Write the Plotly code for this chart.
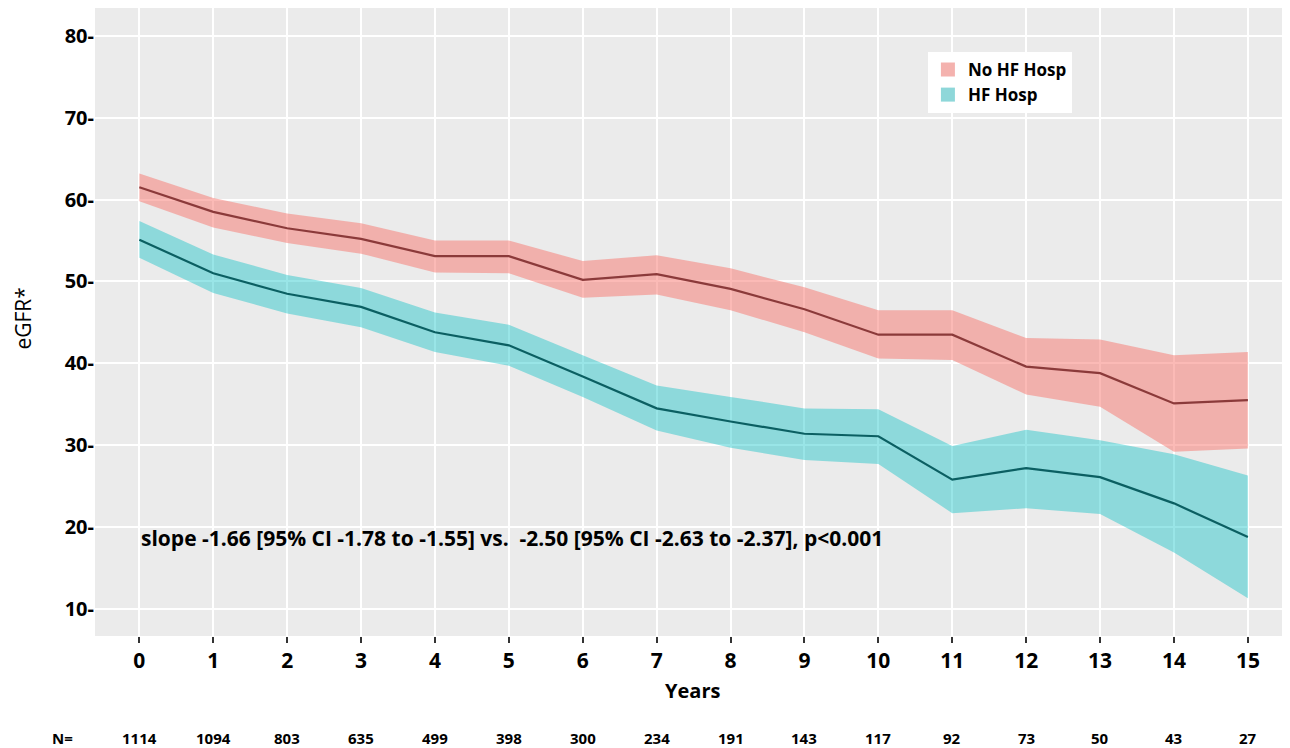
import plotly.graph_objects as go

years = list(range(16))
n_at_risk = [1114, 1094, 803, 635, 499, 398, 300, 234, 191, 143, 117, 92, 73, 50, 43, 27]

no_hf_mean = [61.5, 58.5, 56.5, 55.2, 53.1, 53.1, 50.2, 50.9, 49.1, 46.6, 43.5, 43.5, 39.6, 38.8, 35.1, 35.5]
no_hf_upper = [63.2, 60.2, 58.3, 57.1, 55.0, 55.0, 52.5, 53.2, 51.6, 49.3, 46.5, 46.5, 43.1, 42.9, 41.0, 41.4]
no_hf_lower = [59.8, 56.6, 54.7, 53.4, 51.1, 51.0, 48.0, 48.4, 46.5, 43.8, 40.6, 40.4, 36.2, 34.7, 29.2, 29.6]

hf_mean = [55.1, 51.0, 48.5, 46.9, 43.8, 42.2, 38.4, 34.5, 32.9, 31.4, 31.1, 25.8, 27.2, 26.1, 22.9, 18.8]
hf_upper = [57.4, 53.3, 50.8, 49.2, 46.2, 44.7, 41.0, 37.3, 35.9, 34.5, 34.4, 29.9, 31.9, 30.6, 28.9, 26.3]
hf_lower = [52.9, 48.6, 46.1, 44.4, 41.4, 39.7, 35.9, 31.8, 29.7, 28.2, 27.7, 21.7, 22.3, 21.6, 16.9, 11.3]

y_ticks = [10, 20, 30, 40, 50, 60, 70, 80]
slope_text = "slope -1.66 [95% CI -1.78 to -1.55] vs.  -2.50 [95% CI -2.63 to -2.37], p<0.001"

FONT = "Open Sans"
RED_FILL = "rgba(248,118,109,0.5)"
TEAL_FILL = "rgba(0,191,196,0.4)"

fig = go.Figure()

fig.add_trace(go.Scatter(
    x=years + years[::-1], y=no_hf_upper + no_hf_lower[::-1],
    fill="toself", fillcolor=RED_FILL, line=dict(width=0),
    mode="lines", showlegend=False, hoverinfo="skip"))
fig.add_trace(go.Scatter(
    x=years + years[::-1], y=hf_upper + hf_lower[::-1],
    fill="toself", fillcolor=TEAL_FILL, line=dict(width=0),
    mode="lines", showlegend=False, hoverinfo="skip"))
fig.add_trace(go.Scatter(
    x=years, y=no_hf_mean, mode="lines",
    line=dict(color="#8B3A3A", width=2.2), showlegend=False))
fig.add_trace(go.Scatter(
    x=years, y=hf_mean, mode="lines",
    line=dict(color="#0B5F62", width=2.2), showlegend=False))

# legend entries with square swatches
fig.add_trace(go.Scatter(x=[None], y=[None], mode="markers", name="No HF Hosp",
                         marker=dict(symbol="square", size=14, color="#F4B2AE")))
fig.add_trace(go.Scatter(x=[None], y=[None], mode="markers", name="HF Hosp",
                         marker=dict(symbol="square", size=14, color="#8ED7D9")))

annotations = [
    dict(x=0, y=18.7, xref="x", yref="y", text="<b>" + slope_text + "</b>", showarrow=False,
         xanchor="left", yanchor="middle",
         font=dict(family=FONT, size=21, color="black")),
    dict(x=0.5, y=-0.086, xref="paper", yref="paper", text="<b>Years</b>", showarrow=False,
         xanchor="center", yanchor="middle", font=dict(family=FONT, size=20, color="black")),
    dict(x=-0.0167, y=-0.1624, xref="paper", yref="paper", text="<b>N=</b>", showarrow=False,
         xanchor="right", yanchor="middle", font=dict(family=FONT, size=15, color="black")),
    dict(x=-0.06, y=0.506, xref="paper", yref="paper", text="eGFR*", showarrow=False,
         textangle=-90, xanchor="center", yanchor="middle",
         font=dict(family=FONT, size=21, color="black")),
]
for yr, n in zip(years, n_at_risk):
    annotations.append(dict(x=yr, y=-0.1624, xref="x", yref="paper", text=f"<b>{n}</b>",
                            showarrow=False, xanchor="center", yanchor="middle",
                            font=dict(family=FONT, size=15, color="black")))

# the page body has an 8px margin, so the figure is shrunk by 8px on each axis
fig.update_layout(
    width=1282, height=740,
    margin=dict(l=87, r=0, t=0, b=112),
    paper_bgcolor="white", plot_bgcolor="#EBEBEB",
    font=dict(family=FONT, color="black"),
    showlegend=True,
    legend=dict(x=0.697, y=0.93, xanchor="left", yanchor="top",
                bgcolor="white", font=dict(family=FONT, size=17, color="black", weight="bold"),
                itemwidth=30, tracegroupgap=0),
    annotations=annotations,
)
fig.update_xaxes(range=[-0.6, 15.57], tickmode="array", tickvals=years, automargin=False,
                 showgrid=True, gridcolor="white", gridwidth=2, zeroline=False,
                 ticks="outside", ticklen=6, tickwidth=2, tickcolor="#333333",
                 tickfont=dict(family=FONT, size=21, color="black", weight="bold"),
                 showline=False)
fig.update_yaxes(range=[6.7, 83.4], tickmode="array", tickvals=y_ticks, automargin=False,
                 ticktext=[f"{v}-" for v in y_ticks],
                 showgrid=True, gridcolor="white", gridwidth=2, zeroline=False,
                 ticks="", ticklabelstandoff=0,
                 tickfont=dict(family=FONT, size=20, color="black", weight="bold"),
                 showline=False)

fig.write_html("out.html")
